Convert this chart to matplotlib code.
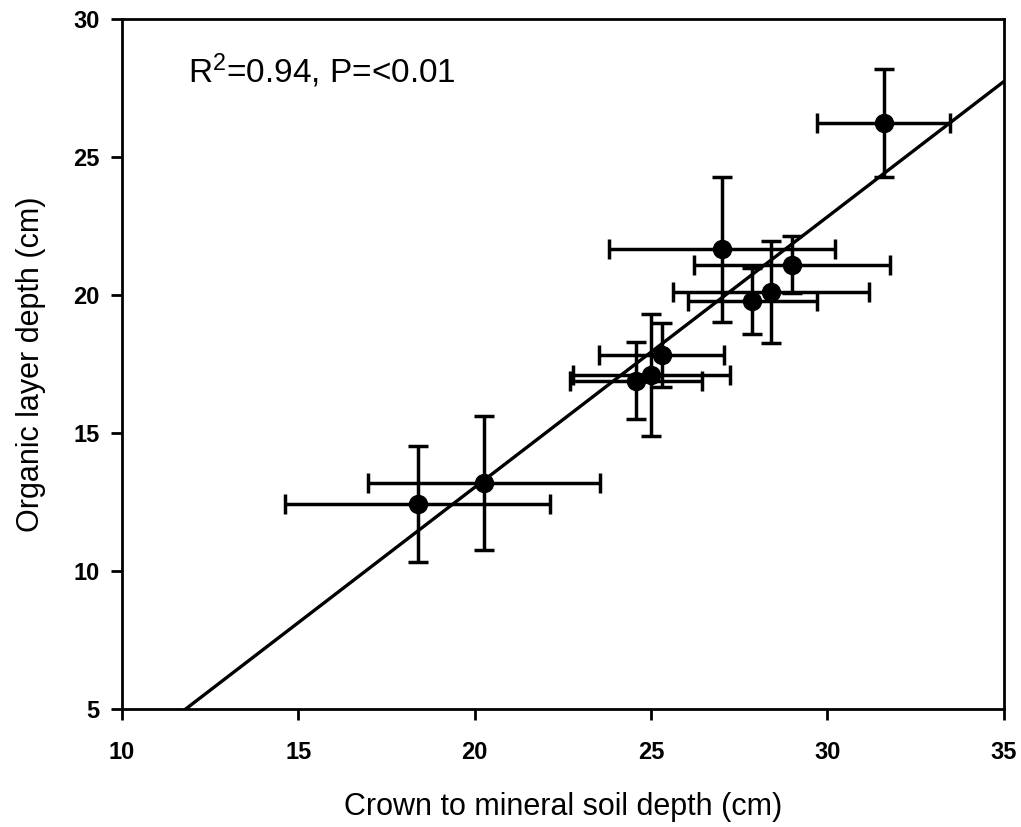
import matplotlib.pyplot as plt
import numpy as np

plt.rcParams['font.family'] = ['Liberation Sans', 'DejaVu Sans']
plt.rcParams['mathtext.fontset'] = 'custom'
plt.rcParams['mathtext.rm'] = 'Liberation Sans'
plt.rcParams['mathtext.it'] = 'Liberation Sans'

# crown to mineral soil depth (cm) and organic layer depth (cm), with SD
crown = np.array([18.38, 20.26, 24.57, 25.01, 25.30, 27.02, 27.87, 28.40, 29.00, 31.60])
crown_err = np.array([3.75, 3.28, 1.88, 2.22, 1.78, 3.20, 1.83, 2.77, 2.77, 1.89])
organic = np.array([12.43, 13.18, 16.90, 17.10, 17.83, 21.66, 19.78, 20.12, 21.09, 26.24])
organic_err = np.array([2.10, 2.42, 1.38, 2.20, 1.17, 2.63, 1.20, 1.85, 1.03, 1.96])

# regression line
slope = 0.98
intercept = -6.57

fig = plt.figure(figsize=(10.21, 8.27), dpi=100)
ax = fig.add_axes([0.1195, 0.1427, 0.8635, 0.8343])

ax.errorbar(crown, organic, xerr=crown_err, yerr=organic_err, fmt='o', color='black',
            markersize=13, elinewidth=2.5, capsize=7.5, capthick=2.5, zorder=3)

x_fit = np.linspace((5 - intercept) / slope, 35, 100)
ax.plot(x_fit, slope * x_fit + intercept, color='black', linewidth=2.4, zorder=2)

ax.text(0.075, 0.925, r'R$^{\mathrm{2}}$=0.94, P=<0.01', transform=ax.transAxes, fontsize=24,
        va='center', ha='left')

ax.set_xlim(10, 35)
ax.set_ylim(5, 30)
ax.set_xticks(range(10, 36, 5))
ax.set_yticks(range(5, 31, 5))
ax.tick_params(direction='out', length=8, width=2, labelsize=17)
ax.tick_params(axis='x', pad=15)
ax.tick_params(axis='y', pad=8)
for lab in ax.get_xticklabels() + ax.get_yticklabels():
    lab.set_fontweight('bold')
for sp in ax.spines.values():
    sp.set_linewidth(2)

ax.set_xlabel('Crown to mineral soil depth (cm)', fontsize=22, labelpad=20)
ax.set_ylabel('Organic layer depth (cm)', fontsize=22, labelpad=20)

fig.savefig('out.png', dpi=100)
